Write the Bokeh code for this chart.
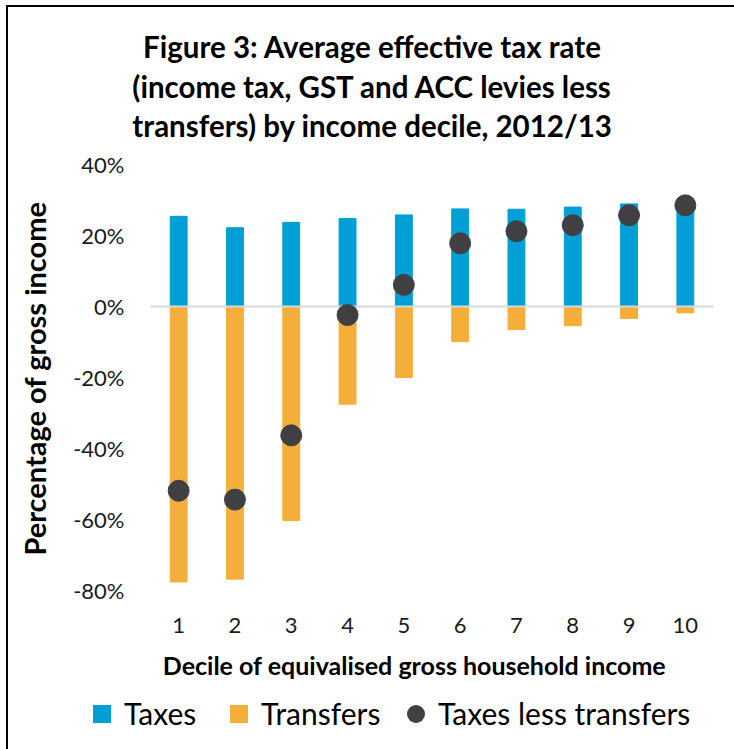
import math
from bokeh.plotting import figure
from bokeh.layouts import column
from bokeh.models import Range1d, Legend, LegendItem, Label
from bokeh.core.properties import value
from bokeh.embed import file_html
from bokeh.resources import INLINE

# ---------------- data ----------------
deciles = [1, 2, 3, 4, 5, 6, 7, 8, 9, 10]
decile_labels = ["1", "2", "3", "4", "5", "6", "7", "8", "9", "10"]
taxes = [25.4, 22.2, 23.7, 24.8, 25.8, 27.5, 27.4, 28.0, 28.9, 30.2]
transfers = [-77.6, -76.8, -60.3, -27.5, -20.0, -9.9, -6.5, -5.4, -3.4, -1.8]
taxes_less_transfers = [-51.9, -54.4, -36.3, -2.4, 6.1, 17.8, 21.2, 22.9, 25.7, 28.5]
y_ticks = [-80, -60, -40, -20, 0, 20, 40]
y_tick_labels = ["-80%", "-60%", "-40%", "-20%", "0%", "20%", "40%"]
title_lines = ["Figure 3: Average effective tax rate",
               "(income tax, GST and ACC levies less",
               "transfers) by income decile, 2012/13"]
x_title = "Decile of equivalised gross household income"
y_title = "Percentage of gross income"
series_names = ["Taxes", "Transfers", "Taxes less transfers"]

# ---------------- layout / style ----------------
FONT = "Lato"
BLUE = "#00A0D6"
ORANGE = "#F3AF39"
DARK = "#404043"
W, H = 734, 749
X_LO, X_HI = 0.5, 10.5          # category axis extent
Y_LO, Y_HI = -80, 40            # value axis extent
PL, PR, PT, PB = 150, 713, 164, 590   # plot area in page pixels

sx = (PR - PL) / (X_HI - X_LO)
sy = (PB - PT) / (Y_HI - Y_LO)
x_range = Range1d(X_LO - PL / sx, X_HI + (W - PR) / sx)
y_range = Range1d(Y_LO - (H - PB) / sy, Y_HI + PT / sy)


def x_at(px):
    return X_LO + (px - PL) / sx


def y_at(py):
    return Y_HI - (py - PT) / sy


p = figure(width=W, height=H, x_range=x_range, y_range=y_range,
           output_backend="svg", toolbar_location=None, title=None,
           x_axis_location=None, y_axis_location=None, min_border=0)
p.outline_line_color = None
p.grid.visible = False
p.background_fill_color = None
p.border_fill_color = None

# bars, baseline, points
r_tax = p.vbar(x=deciles, top=taxes, width=0.3, fill_color=BLUE, line_color=BLUE)
r_tr = p.vbar(x=deciles, top=transfers, width=0.3, fill_color=ORANGE, line_color=ORANGE)
p.segment(x0=[X_LO], x1=[X_HI], y0=[0], y1=[0], line_color="#d9d9d9", line_width=2)
r_net = p.scatter(x=deciles, y=taxes_less_transfers, size=21, marker="circle",
                  fill_color=DARK, line_color=DARK)

# value-axis tick labels
p.text(x=[x_at(124)] * len(y_ticks), y=y_ticks, text=y_tick_labels,
       text_align="right", text_baseline="middle",
       text_font=value(FONT), text_font_size="22px", text_color="#1a1a1a")
# category-axis tick labels
p.text(x=deciles, y=[y_at(625)] * len(deciles), text=decile_labels,
       text_align="center", text_baseline="middle",
       text_font=value(FONT), text_font_size="22px", text_color="#1a1a1a")

# chart title (screen units: from canvas bottom-left, y up)
for line, base in zip(title_lines, [46, 86, 125]):
    p.add_layout(Label(x=372, y=H - base, x_units="screen", y_units="screen",
                       text=line, text_align="center", text_baseline="alphabetic",
                       text_font=FONT, text_font_style="bold",
                       text_font_size="29.5px", text_color="#000000"))

# axis titles
p.add_layout(Label(x=414, y=H - 664, x_units="screen", y_units="screen",
                   text=x_title, text_align="center", text_baseline="middle",
                   text_font=FONT, text_font_style="bold",
                   text_font_size="25px", text_color="#000000"))
p.add_layout(Label(x=34, y=H - 378, x_units="screen", y_units="screen",
                   text=y_title, text_align="center", text_baseline="middle",
                   angle=math.pi / 2,
                   text_font=FONT, text_font_style="bold",
                   text_font_size="29px", text_color="#000000"))

# legend swatch proxies (hidden; they only supply the legend's swatches)
px_tax = p.scatter(x=deciles, y=taxes, marker="square", size=10,
                   fill_color=BLUE, line_color=None, visible=False)
px_tr = p.scatter(x=deciles, y=transfers, marker="square", size=10,
                  fill_color=ORANGE, line_color=None, visible=False)
px_net = p.scatter(x=deciles, y=taxes_less_transfers, marker="circle", size=10,
                   fill_color=DARK, line_color=None, visible=False)

# one legend per entry so each entry sits where the reference has it
for name, rend, left in zip(series_names, [px_tax, px_tr, px_net], [79, 216, 393]):
    lg = Legend(items=[LegendItem(label=name, renderers=[rend])],
                location=(left, H - 713 - 22.5), orientation="horizontal",
                glyph_width=45, glyph_height=45, label_standoff=0,
                label_height=45,
                label_text_font=FONT, label_text_font_size="30px",
                label_text_color="#000000",
                padding=0, margin=0, border_line_color=None,
                background_fill_alpha=0)
    p.add_layout(lg, "center")

layout = column(p, spacing=0)
layout.styles = {
    "background-color": "#ffffff",
    "background-image": "linear-gradient(#000000, #000000), linear-gradient(#000000, #000000)",
    "background-position": "6px 5px, 6px 5px",
    "background-size": "2px 760px, 760px 2px",
    "background-repeat": "no-repeat, no-repeat",
}

open("out.html", "w").write(file_html(layout, INLINE))
